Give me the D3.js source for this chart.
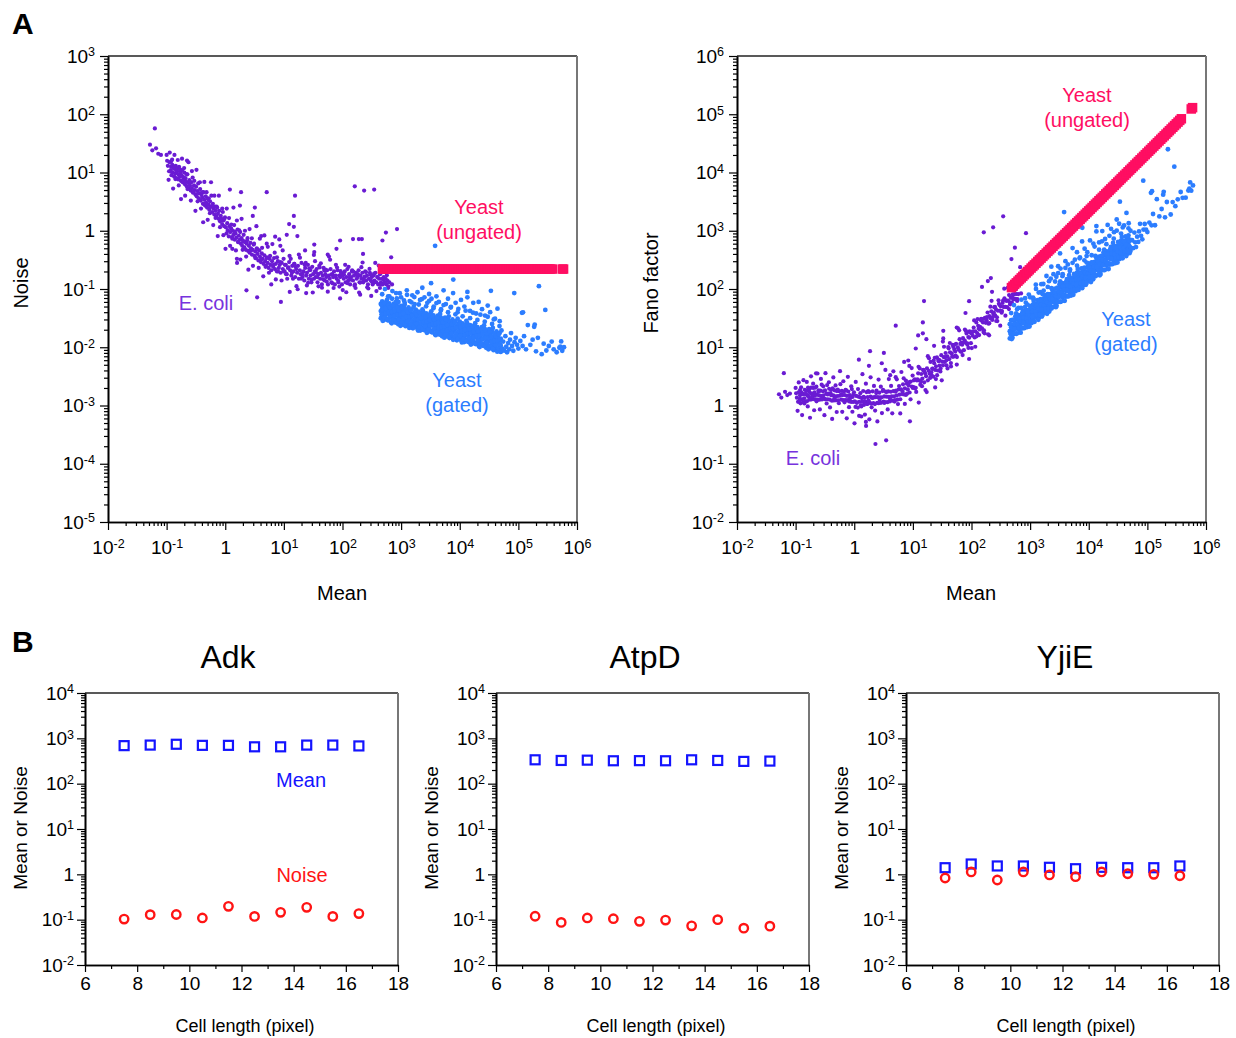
<!DOCTYPE html>
<html lang="en">
<head>
<meta charset="utf-8">
<title>Noise and Fano factor vs mean</title>
<script src="https://cdnjs.cloudflare.com/ajax/libs/d3/7.8.5/d3.min.js"></script>
<style>
  body { margin: 0; background: #fff; }
  svg { display: block; }
</style>
</head>
<body>
<script>
// ---- data: panel A (mean, noise) pairs ----
var ecoliPoints = [
  [0.052,30],[0.063,57],[0.066,26],[0.08,20],[0.1,20],[0.119,15.5],[0.119,12.6],[0.223,16],[0.057,24],[0.072,21],
  [0.105,13],[0.11,10.5],[0.112,15],[0.118,11],[0.121,9],[0.125,13.5],[0.128,10],[0.131,12],[0.134,8.5],[0.137,11.5],
  [0.14,9.5],[0.143,13],[0.146,8],[0.15,10.5],[0.153,11.8],[0.157,7.6],[0.16,9.2],[0.163,12.5],[0.167,8.4],[0.171,10],
  [0.175,7.2],[0.18,9],[0.184,11],[0.188,6.8],[0.192,8.3],[0.197,7.5],[0.2,10],[0.205,6.3],[0.21,8],[0.215,7],
  [0.22,5.8],[0.226,9.3],[0.232,6.6],[0.238,5.3],[0.245,7.4],[0.25,6],[0.257,4.9],[0.264,6.8],[0.27,5.4],[0.278,8.2],
  [0.285,4.6],[0.293,6],[0.3,5],[0.31,4.2],[0.318,5.7],[0.326,3.9],[0.335,4.8],[0.345,6.5],[0.354,3.6],[0.363,4.4],
  [0.373,5.2],[0.383,3.3],[0.395,4.1],[0.405,3.7],[0.416,2.9],[0.428,4.6],[0.44,3.4],[0.452,2.7],[0.465,3.9],[0.478,3],
  [0.49,2.5],[0.505,3.5],[0.52,2.8],[0.535,2.3],[0.55,3.2],[0.565,2.6],[0.58,4],[0.6,2.1],[0.615,2.9],[0.63,2.4],
  [0.65,1.9],[0.668,2.6],[0.688,2.2],[0.708,1.75],[0.728,2.5],[0.75,1.95],[0.77,1.6],[0.79,2.2],[0.815,1.45],[0.84,1.8],
  [0.86,1.6],[0.885,1.3],[0.91,2.1],[0.935,1.5],[0.96,1.2],[0.99,1.7],
  [1.02,1.15],[1.05,0.9],[1.08,1.35],[1.11,1.0],[1.15,0.8],[1.18,1.2],[1.2,5.1],[1.22,0.95],[1.26,1.1],[1.3,0.78],
  [1.32,0.49],[1.34,1.0],[1.38,0.85],[1.42,1.25],[1.46,0.7],[1.5,0.9],[1.54,0.76],[1.58,0.33],[1.59,0.28],[1.62,1.05],
  [1.66,0.64],[1.7,0.82],[1.75,0.7],[1.78,2.7],[1.8,0.95],[1.85,0.6],[1.86,4.6],[1.9,0.75],[1.95,0.55],[2.0,0.68],
  [2.06,0.85],[2.12,0.52],[2.18,0.64],[2.25,0.47],[2.3,0.095],[2.32,0.6],[2.4,0.75],[2.46,0.45],[2.53,0.55],[2.6,0.42],
  [2.68,0.62],[2.75,0.5],[2.85,0.39],[2.95,1.8],[2.95,0.47],[3.05,0.58],[3.15,0.37],[3.2,2.5],[3.25,0.44],[3.35,0.34],
  [3.45,0.5],[3.5,0.072],[3.55,0.4],[3.68,0.31],[3.8,0.46],[3.9,0.36],[4.05,0.29],[4.1,0.81],[4.2,0.41],[4.35,0.33],
  [4.5,0.27],[4.65,0.38],[4.8,0.3],[4.95,0.25],[5.1,0.6],[5.1,4.6],[5.15,0.35],[5.3,0.28],[5.5,0.23],[5.7,0.33],
  [5.9,0.26],[6.1,0.21],[6.3,0.3],[6.55,0.24],[6.8,0.34],[7.1,0.79],[7.05,0.22],[7.3,0.27],[7.6,0.2],[7.9,0.3],
  [8.2,0.23],[8.7,0.55],[8.5,0.26],[8.9,0.06],[8.8,0.19],[9.2,0.28],[9.6,0.22],[9.9,0.33],
  [10.3,0.2],[10.8,0.26],[11.2,0.85],[11.2,0.18],[11.7,0.23],[12.3,1.3],[12.3,0.29],[12.6,0.089],[12.8,0.21],[13.4,0.17],
  [13.9,0.25],[14.5,0.2],[14.8,1.8],[14.8,1.17],[15.1,0.27],[15.5,4.0],[15.6,0.16],[16.2,0.22],[16.8,0.19],[17,0.81],
  [17.4,0.25],[18,0.15],[18.7,0.21],[19.4,0.18],[20,0.28],[20.8,0.16],[21.5,0.2],[22.3,0.14],[23,0.46],[23.1,0.23],
  [24,0.085],[24,0.17],[24.8,0.19],[25.7,0.26],[26.6,0.15],[27.5,0.21],[28.5,0.17],[29.5,0.13],[30.5,0.24],[31.5,0.18],
  [32.6,0.15],[33,0.58],[33,0.43],[33.8,0.2],[35,0.16],[36.2,0.22],[37.5,0.13],[38.8,0.18],[40.2,0.25],[41.6,0.15],
  [43,0.19],[44.5,0.12],[46,0.17],[47.6,0.23],[49.3,0.14],[51,0.18],[52.8,0.16],[54.6,0.21],[56,0.39],[56.5,0.12],
  [58.5,0.17],[60.5,0.15],[62.6,0.22],[64.8,0.13],[67,0.18],[69.3,0.16],[71.7,0.2],[74.2,0.12],[76.8,0.17],[79,0.49],
  [79.5,0.15],[82.3,0.21],[85.2,0.13],[88.2,0.17],[91,0.68],[91,0.069],[91.3,0.16],[94.5,0.19],[97.8,0.12],
  [101,0.17],[105,0.15],[109,0.2],[113,0.13],[117,0.16],[121,0.22],[125,0.14],[130,0.18],[135,0.12],[140,0.16],
  [145,0.2],[151,0.72],[151,0.14],[157,0.17],[162,5.8],[163,0.12],[169,0.19],[175,0.15],[181,0.16],[188,0.21],
  [190,0.72],[195,0.13],[200,0.08],[202,0.17],[210,0.15],[214,0.72],[218,0.19],[224,0.4],[226,0.13],[234,4.9],
  [235,0.16],[244,0.2],[253,0.14],[262,0.17],[272,0.12],[282,0.15],[293,0.19],[304,0.14],[309,0.076],[315,0.16],
  [327,0.12],[339,0.17],[347,5.1],[352,0.14],[365,0.19],[378,0.13],[392,0.16],[406,0.12],[421,0.15],[437,0.18],
  [453,0.13],[470,0.15],[480,0.68],[488,0.12],[506,0.16],[525,0.13],[545,0.15],[550,0.93],[565,0.12],[586,0.14],
  [608,0.11],[630,0.13],[676,0.35],[700,0.12],[850,1.07],
  // wider part of the cloud
  [0.102,15.9],[0.108,7.5],[0.113,22],[0.117,10.4],[0.124,16.6],[0.129,5.3],[0.136,20],[0.141,7.7],[0.148,10.6],[0.155,16.4],
  [0.161,6.0],[0.169,11.3],[0.176,3.5],[0.183,17.3],[0.19,7.4],[0.199,11.9],[0.207,4.0],[0.216,9.4],[0.227,5.2],[0.236,15],
  [0.247,7.0],[0.259,3.3],[0.27,10.6],[0.282,4.5],[0.296,7.2],[0.31,2.2],[0.323,11.1],[0.338,3.2],[0.352,4.4],[0.369,6.8],
  [0.386,2.4],[0.402,4.6],[0.42,1.4],[0.44,6.9],[0.458,2.9],[0.48,4.6],[0.502,1.54],[0.523,3.6],[0.547,2.0],[0.572,6.8],
  [0.598,2.6],[0.624,1.25],[0.652,4.0],[0.683,1.66],[0.712,2.6],[0.745,0.81],[0.778,4.0],[0.815,1.15],[0.85,1.56],[0.888,2.4],
  [0.93,0.84],[0.97,1.6],
  [1.01,0.49],[1.06,2.4],[1.1,1.03],[1.16,1.65],[1.21,0.55],[1.27,1.28],[1.32,0.73],[1.38,2.5],[1.45,0.97],[1.52,0.46],
  [1.58,1.5],[1.66,0.64],[1.73,1.02],[1.81,0.32],[1.9,1.6],[1.98,0.47],[2.07,0.65],[2.17,1.0],[2.27,0.36],[2.37,0.69],
  [2.48,0.215],[2.6,1.07],[2.72,0.46],[2.84,0.74],[2.97,0.25],[3.1,0.6],[3.25,0.34],[3.4,1.2],[3.55,0.48],[3.72,0.23],
  [3.89,0.73],[4.07,0.32],[4.25,0.51],[4.45,0.165],[4.65,0.83],[4.87,0.24],[5.09,0.34],[5.32,0.53],[5.57,0.19],[5.82,0.37],
  [6.09,0.12],[6.37,0.59],[6.66,0.26],[6.97,0.42],[7.29,0.146],[7.62,0.35],[7.97,0.2],[8.34,0.71],[8.72,0.29],[9.12,0.14],
  [9.54,0.46],[9.98,0.2],
  [10.4,0.26],[11.4,0.15],[12.5,0.37],[13.7,0.19],[15,0.27],[16.4,0.112],[18,0.39],[19.7,0.151],[21.6,0.197],[23.6,0.28],
  [25.9,0.128],[28.4,0.212],[31.1,0.087],[34,0.3],[37.3,0.16],[40.8,0.235],[44.7,0.105],[49,0.207],[53.7,0.134],[58.8,0.36],
  [64.4,0.177],[70.5,0.104],[77.2,0.26],[84.6,0.138],[92.6,0.203],[101,0.096],[111,0.26],[122,0.126],[133,0.157],[146,0.21],
  [160,0.114],[175,0.174],[192,0.087],[210,0.237],[230,0.143],[252,0.195],[276,0.102],[302,0.176],[331,0.126],[362,0.28],
  [397,0.16],[435,0.104],[476,0.213],[521,0.127],[571,0.173],
  [10.9,0.18],[12,0.235],[13.1,0.33],[14.3,0.15],[15.7,0.245],[17.2,0.099],[18.8,0.345],[20.6,0.18],[22.6,0.262],[24.7,0.115],
  [27.1,0.226],[29.7,0.145],[32.5,0.385],[35.6,0.19],[39,0.111],[42.7,0.277],[46.8,0.147],[51.3,0.215],[56.1,0.09],[61.5,0.318],
  [67.4,0.125],[73.8,0.165],[80.8,0.234],[88.5,0.11],[97,0.185],[106,0.177],[116,0.088],[127,0.24],[139,0.145],[153,0.198],
  [167,0.104],[183,0.18],[201,0.129],[220,0.285],[241,0.163],[264,0.107],[289,0.221],[316,0.134],[346,0.183],[379,0.092],
  [415,0.252],[455,0.119],[498,0.146],[545,0.194],[600,0.104]
];

var yeastGatedPoints = [
  [450,.0315],[450,.0418],[450,.0554],[475,.0348],[475,.0462],[475,.0613],[475,.0812],
  [500,.029],[500,.0371],[500,.0491],[530,.0322],[530,.0413],[530,.0545],[530,.0998],
  [560,.0306],[560,.0374],[560,.0458],[560,.0607],[595,.029],[595,.0384],[595,.051],
  [630,.0321],[630,.0426],[630,.0565],[630,.075],[670,.0268],[670,.0343],[670,.0454],
  [710,.0297],[710,.0381],[710,.0503],[710,.0922],[750,.0283],[750,.0345],[750,.0423],[750,.056],
  [795,.0267],[795,.0354],[795,.047],[845,.0295],[845,.0392],[845,.052],[845,.069],
  [895,.0248],[895,.0317],[895,.0419],[950,.0273],[950,.035],[950,.0461],[950,.0846],
  [1000,.0259],[1000,.0316],[1000,.0387],[1000,.0513],[1060,.0245],[1060,.0325],[1060,.0432],
  [1120,.0272],[1120,.0361],[1120,.0479],[1120,.0636],[1190,.023],[1190,.0294],[1190,.0389],
  [1260,.0256],[1260,.0329],[1260,.0434],[1260,.0795],[1340,.0243],[1340,.0297],[1340,.0363],[1340,.0482],
  [1420,.0229],[1420,.0304],[1420,.0403],[1500,.0253],[1500,.0335],[1500,.0445],[1500,.059],
  [1590,.0212],[1590,.0271],[1590,.0359],[1680,.0234],[1680,.03],[1680,.0396],[1680,.0726],
  [1780,.0223],[1780,.0272],[1780,.0333],[1780,.0441],[1890,.0209],[1890,.0278],[1890,.0369],
  [2000,.0232],[2000,.0308],[2000,.0409],[2000,.0542],[2120,.0194],[2120,.0249],[2120,.0329],
  [2250,.0215],[2250,.0276],[2250,.0364],[2250,.0668],[2380,.0206],[2380,.0251],[2380,.0308],[2380,.0408],
  [2520,.0195],[2520,.0259],[2520,.0344],[2670,.0216],[2670,.0287],[2670,.0381],[2670,.0504],
  [2830,.0182],[2830,.0233],[2830,.0308],[3000,.0201],[3000,.0258],[3000,.0341],[3000,.0624],
  [3170,.0192],[3170,.0235],[3170,.0287],[3170,.0381],[3360,.0181],[3360,.024],[3360,.0319],
  [3560,.02],[3560,.0266],[3560,.0353],[3560,.0467],[3780,.0167],[3780,.0214],[3780,.0283],
  [4000,.0185],[4000,.0237],[4000,.0313],[4000,.0574],[4240,.0176],[4240,.0215],[4240,.0264],[4240,.0349],
  [4490,.0166],[4490,.022],[4490,.0292],[4760,.0183],[4760,.0243],[4760,.0323],[4760,.0428],
  [5000,.0154],[5000,.0197],[5000,.026],[5300,.0171],[5300,.0219],[5300,.0289],[5300,.053],
  [5620,.0163],[5620,.0199],[5620,.0243],[5620,.0323],[5960,.0154],[5960,.0204],[5960,.0271],
  [6310,.0171],[6310,.0227],[6310,.0301],[6310,.0399],[6690,.0144],[6690,.0184],[6690,.0243],
  [7080,.0159],[7080,.0204],[7080,.0269],[7080,.0494],[7500,.0151],[7500,.0185],[7500,.0226],[7500,.03],
  [7950,.0143],[7950,.019],[7950,.0252],[8430,.0157],[8430,.0209],[8430,.0277],[8430,.0368],
  [8930,.0132],[8930,.0169],[8930,.0224],[9460,.0146],[9460,.0188],[9460,.0248],[9460,.0454],
  [10000,.0139],[10000,.017],[10000,.0208],[10000,.0276],[10600,.0131],[10600,.0174],[10600,.0231],
  [11200,.0145],[11200,.0193],[11200,.0256],[11200,.0339],[11900,.0123],[11900,.0157],[11900,.0208],
  [12600,.0137],[12600,.0176],[12600,.0232],[12600,.0425],[13400,.013],[13400,.0159],[13400,.0194],[13400,.0258],
  [14100,.0123],[14100,.0163],[14100,.0216],[15000,.0135],[15000,.018],[15000,.0239],[15000,.0316],
  [15900,.0114],[15900,.0146],[15900,.0194],[16800,.0126],[16800,.0162],[16800,.0214],[16800,.0392],
  [17800,.012],[17800,.0146],[17800,.0179],[17800,.0237],[18900,.0113],[18900,.015],[18900,.0199],
  [20000,.0126],[20000,.0167],[20000,.0221],[20000,.0294],[21200,.0105],[21200,.0134],[21200,.0178],
  [22500,.0117],[22500,.015],[22500,.0198],[22500,.0363],[23800,.0112],[23800,.0137],[23800,.0167],[23800,.0222],
  [25200,.0106],[25200,.0141],[25200,.0187],[26700,.0117],[26700,.0156],[26700,.0206],[26700,.0274],
  [28300,.0098],[28300,.0125],[28300,.0165],[30000,.0108],[30000,.0138],[30000,.0182],[30000,.0334],
  [31700,.0103],[31700,.0126],[31700,.0154],[31700,.0204],[33600,.0097],[33600,.0128],[33600,.017],
  [35600,.0107],[35600,.0143],[35600,.0189],[35600,.0251],[37800,.0089],[37800,.0114],[37800,.0151],
  [40000,.0099],[40000,.0128],[40000,.0168],[40000,.0309],[42400,.0095],[42400,.0116],[42400,.0142],[42400,.0188],
  [44900,.0089],[44900,.0118],[44900,.0157],[47600,.0099],[47600,.0131],[47600,.0174],[47600,.0231],
  [50000,.0083],[50000,.0106],[50000,.0141],
  // second, offset pass through the dense blob
  [463,.0368],[463,.0531],[485,.0285],[485,.0445],[517,.0575],[517,.0326],[541,.0465],[541,.038],[578,.0659],[578,.0294],
  [610,.04],[610,.0529],[645,.0334],[645,.0481],[690,.0258],[690,.0402],[728,.0523],[728,.0297],[770,.0423],[770,.0345],
  [818,.0598],[818,.0267],[866,.0363],[866,.0479],[918,.0302],[918,.0436],[975,.0233],[975,.0363],[1030,.0472],[1030,.0268],
  [1090,.0382],[1090,.0312],[1150,.0542],[1150,.0242],[1225,.0332],[1225,.0438],[1300,.0278],[1300,.0401],[1380,.0215],[1380,.0335],
  [1460,.0435],[1460,.0247],[1545,.035],[1545,.0286],[1635,.0496],[1635,.0221],[1730,.03],[1730,.0396],[1835,.025],[1835,.0361],
  [1945,.0193],[1945,.0301],[2060,.0391],[2060,.0222],[2185,.0316],[2185,.0258],[2315,.0447],[2315,.02],[2450,.0273],[2450,.036],
  [2595,.0229],[2595,.0329],[2750,.0177],[2750,.0276],[2915,.0361],[2915,.0205],[3090,.0291],[3090,.0237],[3265,.0413],[3265,.0184],
  [3460,.0251],[3460,.0331],[3665,.0208],[3665,.03],[3890,.0161],[3890,.0251],[4120,.0325],[4120,.0185],[4365,.0264],[4365,.0215],
  [4625,.0372],[4625,.0166],[4900,.0225],[4900,.0297],[5150,.0188],[5150,.0271],[5460,.0146],[5460,.0228],[5790,.0297],[5790,.0168],
  [6140,.024],[6140,.0196],[6500,.034],[6500,.0152],[6890,.0207],[6890,.0273],[7290,.0173],[7290,.0249],[7725,.0134],[7725,.0209],
  [8190,.0272],[8190,.0154],[8680,.0218],[8680,.0178],[9200,.0309],[9200,.0138],[9745,.0188],[9745,.0248],[10300,.0156],[10300,.0225],
  [10900,.0121],[10900,.0189],[11550,.0245],[11550,.0139],[12250,.0199],[12250,.0163],[12980,.0284],[12980,.0127],[13800,.0173],[13800,.0228],
  [14520,.0144],[14520,.0207],[15450,.0111],[15450,.0173],[16380,.0227],[16380,.0129],[17300,.0183],[17300,.0149],[18330,.0258],[18330,.0115],
  [19470,.0156],[19470,.0206],[20600,.0131],[20600,.0188],[21840,.0101],[21840,.0158],[23180,.0206],[23180,.0117],[24510,.0167],[24510,.0137],
  [25960,.0238],[25960,.0106],[27500,.0144],[27500,.019],[29150,.0119],[29150,.0172],[30900,.0092],[30900,.0144],[32650,.0187],[32650,.0106],
  [34600,.015],[34600,.0123],[36670,.0214],[36670,.0095],[38930,.0129],[38930,.017],[41200,.0108],[41200,.0156],[43670,.0084],[43670,.0131],
  [46250,.0169],[46250,.0096],[49030,.0137],[49030,.0112],[51500,.0194],[51500,.0087],
  // sparse tail and outliers
  [53000,.0095],[55000,.0125],[57000,.0088],[60000,.0155],[62000,.0102],[64000,.0082],[67000,.0118],[70000,.0092],
  [72000,.0135],[75000,.0175],[78000,.0105],[82000,.0087],[86000,.0122],[90000,.0145],[95000,.011],[100000,.0095],
  [108000,.0128],[115000,.039],[118000,.0105],[125000,.0155],[135000,.0092],[145000,.024],[160000,.011],[175000,.0135],
  [190000,.0245],[200000,.0085],[215000,.0145],[250000,.0076],[270000,.0115],[300000,.0088],[330000,.0105],[370000,.0125],
  [400000,.0092],[450000,.0082],[500000,.0098],[560000,.0087],[520000,.0102],
  [224000,.112],[288000,.0437],[537000,.0126],[600000,.01],[186000,.0224],[120000,.0398],[85000,.085],
  [34000,.093],[13500,.089],[7760,.145],[3800,.55],[3240,.126],
  [600,.075],[700,.068],[820,.085],[900,.06],[1000,.072],[1150,.058],[1250,.095],[1400,.062],[1550,.078],[1700,.055],
  [1900,.088],[2100,.065],[2300,.105],[2500,.072],[2800,.058],[3000,.082],[3300,.068],[3600,.05],[4000,.075],[4400,.06],
  [4800,.045],[5300,.095],[5800,.055],[6300,.068],[7000,.048],[7700,.085],[8500,.058],[9200,.04],[10500,.065],[12000,.05],
  [13500,.072],[15000,.042],[17000,.058],[19000,.038],[21000,.06],[24000,.045],[27000,.035],[30000,.052],[33000,.04],
  [38000,.03],[44000,.046],[48000,.028]
];

var yeastUngatedMean = [
  480,510,545,580,620,660,705,750,800,855,910,970,1040,1110,1180,1260,1350,1440,1540,1650,
  1760,1880,2010,2150,2300,2460,2630,2810,3000,3210,3430,3670,3920,4190,4480,4790,5120,5470,5850,6250,
  6680,7140,7630,8160,8720,9320,9960,10650,11400,12200,13000,13900,14900,15900,17000,18200,19500,20800,22300,23800,
  25500,27300,29200,31200,33400,35700,38200,40900,43700,46800,50000,53500,57300,61300,65600,70200,75100,80400,86000,92000,
  98500,105400,112800,120700,129100,138200,147800,158200,169300,181100,193800,207400,221900,237400,254100,271900,290900,311300,333100,356400,
  380000,560000,590000
];
var yeastUngatedNoise = [
  0.22,0.22,0.22,0.22,0.22,0.22,0.22,0.22,0.22,0.22,0.22,0.22,0.22,0.22,0.22,0.22,0.22,0.22,0.22,0.22,
  0.22,0.22,0.22,0.22,0.22,0.22,0.22,0.22,0.22,0.22,0.22,0.22,0.22,0.22,0.22,0.22,0.22,0.22,0.22,0.22,
  0.22,0.22,0.22,0.22,0.22,0.22,0.22,0.22,0.22,0.22,0.22,0.22,0.22,0.22,0.22,0.22,0.22,0.22,0.22,0.22,
  0.22,0.22,0.22,0.22,0.22,0.22,0.22,0.22,0.22,0.22,0.22,0.22,0.22,0.22,0.22,0.22,0.22,0.22,0.22,0.22,
  0.22,0.22,0.22,0.22,0.22,0.22,0.22,0.22,0.22,0.22,0.22,0.22,0.22,0.22,0.22,0.22,0.22,0.22,0.22,0.22,
  0.22,0.22,0.22
];

// ---- data: panel B ----
var cellLength = [7.5, 8.5, 9.5, 10.5, 11.5, 12.5, 13.5, 14.5, 15.5, 16.5];
var adkMean  = [690, 710, 740, 700, 700, 650, 650, 710, 710, 680];
var adkNoise = [0.103, 0.129, 0.13, 0.109, 0.197, 0.118, 0.145, 0.187, 0.118, 0.136];
var atpdMean  = [336, 325, 330, 320, 322, 320, 336, 325, 310, 315];
var atpdNoise = [0.119, 0.087, 0.109, 0.105, 0.092, 0.098, 0.073, 0.1, 0.065, 0.072];
var yjieMean  = [1.40, 1.69, 1.53, 1.53, 1.43, 1.33, 1.43, 1.40, 1.40, 1.53];
var yjieNoise = [0.83, 1.13, 0.75, 1.13, 0.97, 0.89, 1.13, 1.03, 1.0, 0.93];
var cellTicks = [6, 8, 10, 12, 14, 16, 18];

// ---- drawing ----
var font = '"Liberation Sans", Arial, Helvetica, sans-serif';
var purple = "#6a1bd3", blue = "#2c7dff", pink = "#ff0e62";

var svg = d3.select("body").append("svg")
    .attr("width", 1236).attr("height", 1038)
    .style("font-family", font);

function decades(lo, hi) {
  var out = [];
  for (var e = lo; e <= hi; e++) out.push(Math.pow(10, e));
  return out;
}
function minors(lo, hi) {
  var out = [];
  for (var e = lo; e < hi; e++)
    for (var k = 2; k <= 9; k++) out.push(k * Math.pow(10, e));
  return out;
}
// "10" with superscript exponent, or "1"
function supText(sel) {
  sel.each(function(d) {
    var t = d3.select(this).text("");
    var e = Math.round(Math.log10(d));
    if (e === 0) { t.text("1"); return; }
    t.append("tspan").text("10");
    t.append("tspan").attr("dy", "-0.5em").attr("font-size", "0.66em").text(e);
  });
}
function styleAxis(g) {
  g.attr("font-family", font).attr("font-size", 19);
  g.selectAll("line").attr("stroke", "#000").attr("stroke-width", 1.2);
  g.selectAll(".domain").attr("stroke", "#000").attr("stroke-width", 1.6);
  g.selectAll("text").attr("fill", "#000");
}
function logAxis(g, scale, side, lo, hi, h, pad) {
  var make = side === "bottom" ? d3.axisBottom : d3.axisLeft;
  var tr = side === "bottom" ? "translate(0," + h + ")" : null;
  var a1 = g.append("g").attr("transform", tr)
      .call(make(scale).tickValues(minors(lo, hi)).tickSize(4).tickSizeOuter(0).tickFormat(""));
  var a2 = g.append("g").attr("transform", tr)
      .call(make(scale).tickValues(decades(lo, hi)).tickSize(8).tickSizeOuter(0).tickPadding(pad).tickFormat(d3.format("")));
  a2.selectAll(".tick text").call(supText);
  styleAxis(a1); styleAxis(a2);
}
function frame(g, w, h) {
  g.append("line").attr("x1", 0).attr("x2", w).attr("y1", 0).attr("y2", 0)
    .attr("stroke", "#222").attr("stroke-width", 1.6);
  g.append("line").attr("x1", w).attr("x2", w).attr("y1", 0).attr("y2", h)
    .attr("stroke", "#777").attr("stroke-width", 2);
}
function label(g, x, y, txt, size, color, anchor, rotate) {
  var t = g.append("text").attr("x", x).attr("y", y).text(txt)
    .attr("font-size", size).attr("fill", color || "#000")
    .attr("text-anchor", anchor || "middle");
  if (rotate) t.attr("transform", "rotate(-90," + x + "," + y + ")");
  return t;
}

// panel letters
label(svg, 12, 34, "A", 30, "#000", "start").attr("font-weight", "bold");
label(svg, 12, 652, "B", 30, "#000", "start").attr("font-weight", "bold");

// ---- panel A: noise vs mean ----
var wA = 469, hA = 466;
var xMean = d3.scaleLog().domain([1e-2, 1e6]).range([0, wA]);

var g1 = svg.append("g").attr("transform", "translate(108,56)");
var yNoise = d3.scaleLog().domain([1e-5, 1e3]).range([hA, 0]);

g1.append("g").selectAll("circle").data(ecoliPoints).join("circle")
  .attr("cx", function(d) { return xMean(d[0]); })
  .attr("cy", function(d) { return yNoise(d[1]); })
  .attr("r", 2.1).attr("fill", purple);
g1.append("g").selectAll("circle").data(yeastGatedPoints).join("circle")
  .attr("cx", function(d) { return xMean(d[0]); })
  .attr("cy", function(d) { return yNoise(d[1]); })
  .attr("r", 2.4).attr("fill", blue);
g1.append("g").selectAll("rect").data(yeastUngatedMean).join("rect")
  .attr("x", function(d) { return xMean(d) - 4.75; })
  .attr("y", function(d, i) { return yNoise(yeastUngatedNoise[i]) - 4.75; })
  .attr("width", 9.5).attr("height", 9.5).attr("fill", pink);

frame(g1, wA, hA);
logAxis(g1, xMean, "bottom", -2, 6, hA, 11);
logAxis(g1, yNoise, "left", -5, 3, hA, 5);

label(svg, 479, 214, "Yeast", 20, pink);
label(svg, 479, 239, "(ungated)", 20, pink);
label(svg, 457, 387, "Yeast", 20, blue);
label(svg, 457, 412, "(gated)", 20, blue);
label(svg, 206, 310, "E. coli", 20, "#7733dd");
label(svg, 28, 283, "Noise", 20, "#000", "middle", true);
label(svg, 342, 600, "Mean", 20);

// ---- panel A: Fano factor vs mean (Fano = noise x mean) ----
var g2 = svg.append("g").attr("transform", "translate(737,56)");
var yFano = d3.scaleLog().domain([1e-2, 1e6]).range([hA, 0]);

g2.append("g").selectAll("circle").data(ecoliPoints).join("circle")
  .attr("cx", function(d) { return xMean(d[0]); })
  .attr("cy", function(d) { return yFano(d[0] * d[1]); })
  .attr("r", 2.1).attr("fill", purple);
g2.append("g").selectAll("circle").data(yeastGatedPoints).join("circle")
  .attr("cx", function(d) { return xMean(d[0]); })
  .attr("cy", function(d) { return yFano(d[0] * d[1]); })
  .attr("r", 2.4).attr("fill", blue);
g2.append("g").selectAll("rect").data(yeastUngatedMean).join("rect")
  .attr("x", function(d) { return xMean(d) - 4.75; })
  .attr("y", function(d, i) { return yFano(d * yeastUngatedNoise[i]) - 4.75; })
  .attr("width", 9.5).attr("height", 9.5).attr("fill", pink);

frame(g2, wA, hA);
logAxis(g2, xMean, "bottom", -2, 6, hA, 11);
logAxis(g2, yFano, "left", -2, 6, hA, 5);

label(svg, 1087, 102, "Yeast", 20, pink);
label(svg, 1087, 127, "(ungated)", 20, pink);
label(svg, 1126, 326, "Yeast", 20, blue);
label(svg, 1126, 351, "(gated)", 20, blue);
label(svg, 813, 465, "E. coli", 20, "#7733dd");
label(svg, 658, 283, "Fano factor", 20, "#000", "middle", true);
label(svg, 971, 600, "Mean", 20);

// ---- panel B: mean and noise vs cell length ----
var wB = 313, hB = 272;
var xCell = d3.scaleLinear().domain([6, 18]).range([0, wB]);
var yB = d3.scaleLog().domain([1e-2, 1e4]).range([hB, 0]);

function genePanel(x0, title, titleX, mean, noise, legend) {
  var g = svg.append("g").attr("transform", "translate(" + x0 + ",693)");
  frame(g, wB, hB);
  var xa1 = g.append("g").attr("transform", "translate(0," + hB + ")")
    .call(d3.axisBottom(xCell).tickValues([7, 9, 11, 13, 15, 17]).tickSize(4).tickSizeOuter(0).tickFormat(""));
  var xa2 = g.append("g").attr("transform", "translate(0," + hB + ")")
    .call(d3.axisBottom(xCell).tickValues(cellTicks).tickSize(7).tickSizeOuter(0).tickPadding(5));
  styleAxis(xa1); styleAxis(xa2);
  logAxis(g, yB, "left", -2, 4, hB, 3);

  g.append("g").selectAll("rect").data(mean).join("rect")
    .attr("x", function(d, i) { return xCell(cellLength[i]) - 4.5; })
    .attr("y", function(d) { return yB(d) - 4.5; })
    .attr("width", 9).attr("height", 9)
    .attr("fill", "none").attr("stroke", "#1414ff").attr("stroke-width", 2.2);
  g.append("g").selectAll("circle").data(noise).join("circle")
    .attr("cx", function(d, i) { return xCell(cellLength[i]); })
    .attr("cy", function(d) { return yB(d); })
    .attr("r", 4.2)
    .attr("fill", "none").attr("stroke", "#ff1414").attr("stroke-width", 2.4);

  label(svg, titleX, 668, title, 32);
  label(svg, x0 - 58, 828, "Mean or Noise", 19, "#000", "middle", true);
  label(svg, x0 + 160, 1032, "Cell length (pixel)", 18);
  if (legend) {
    label(svg, x0 + 216, 787, "Mean", 20, "#1414ff");
    label(svg, x0 + 217, 882, "Noise", 20, "#ff1414");
  }
}

genePanel(85, "Adk", 228, adkMean, adkNoise, true);
genePanel(496, "AtpD", 645, atpdMean, atpdNoise, false);
genePanel(906, "YjiE", 1065, yjieMean, yjieNoise, false);
</script>
</body>
</html>
